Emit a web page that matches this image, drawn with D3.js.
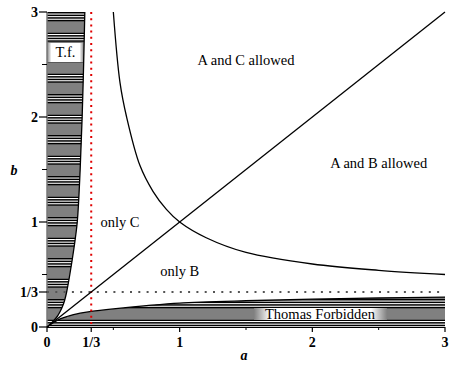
<!DOCTYPE html>
<html><head><meta charset="utf-8">
<script src="https://cdn.jsdelivr.net/npm/d3@7"></script>
<style>body{margin:0;background:#fff}svg{display:block}</style>
</head><body><div id="chart"></div>
<script>
// boundary curve of the "Thomas forbidden" regions (t along axis, s across)
const boundaryT = [0,0.05,0.1,0.15,0.2,0.25,1/3,0.5,0.75,1,1.5,2,2.5,3];
const boundaryS = [0,0.043,0.077,0.1,0.118,0.132,0.148,0.172,0.203,0.228,0.25,0.265,0.276,0.285];
// curve separating the allowed regions
const hypA = [0.5,0.55,0.6,0.7,0.8,0.9,1,1.2,1.5,2,2.5,3];
const hypB = [3,2.33,2,1.54,1.29,1.12,1,0.85,0.71,0.6,0.54,0.5];
// diagonal b = a
const diagA = [0,3];
const diagB = [0,3];
const tickVals = [0,1/3,1,2,3];
const tickLabels = ["0","1/3","1","2","3"];
const minorTicks = [0.5,1.5,2.5];
const regionLabels = [
  {text:"A and C allowed", a:1.5, b:2.5},
  {text:"A and B allowed", a:2.5, b:1.51},
  {text:"only C", a:0.55, b:0.95},
  {text:"only B", a:1.0, b:0.49}
];

const FONT="Liberation Serif";
const W=457,H=368;
const x=d3.scaleLinear().domain([0,3]).range([47,445]);
const y=d3.scaleLinear().domain([0,3]).range([327,12]);
const svg=d3.select("#chart").append("svg").attr("width",W).attr("height",H);
const defs=svg.append("defs");
const grad=defs.append("linearGradient").attr("id","lbl").attr("x1","0").attr("x2","1").attr("y1","0").attr("y2","0");
[[0,"#808080"],[0.12,"#fff"],[0.88,"#fff"],[1,"#808080"]].forEach(s=>grad.append("stop").attr("offset",s[0]).attr("stop-color",s[1]));

const bnd=boundaryT.map((t,i)=>({t,s:boundaryS[i]}));
const lineC=d3.line().curve(d3.curveCatmullRom);
const leftPath=lineC(bnd.map(d=>[x(d.s),y(d.t)]))+"L"+x(0)+","+y(3)+"Z";
const botPath=lineC(bnd.map(d=>[x(d.t),y(d.s)]))+"L"+x(3)+","+y(0)+"Z";
const cp=defs.append("clipPath").attr("id","forb");
cp.append("path").attr("d",leftPath);
cp.append("path").attr("d",botPath);

const fg=svg.append("g").attr("clip-path","url(#forb)");
fg.append("rect").attr("x",x(0)).attr("y",y(3)).attr("width",x(3)-x(0)).attr("height",y(0)-y(3)).attr("fill","#808080");
const P=20.5;
for(let k=0;k<16;k++){
  const y0=12+k*P;
  fg.append("rect").attr("x",x(0)).attr("y",y0).attr("width",x(3)-x(0)).attr("height",9).attr("fill","#fff");
  for(let j=0;j<4;j++) fg.append("rect").attr("x",x(0)).attr("y",y0+j*2.6).attr("width",x(3)-x(0)).attr("height",1.5).attr("fill","#000");
}
// label boxes
svg.append("rect").attr("x",47).attr("y",43).attr("width",37).attr("height",19).attr("fill","url(#lbl)");
svg.append("text").attr("x",65.5).attr("y",57).attr("text-anchor","middle").attr("font-family",FONT).attr("font-size",14.5).text("T.f.");
svg.append("rect").attr("x",254).attr("y",308).attr("width",133).attr("height",12).attr("fill","url(#lbl)");
svg.append("text").attr("x",320).attr("y",318.5).attr("text-anchor","middle").attr("font-family",FONT).attr("font-size",14.5).text("Thomas Forbidden");

// boundary lines
svg.append("path").attr("d",lineC(bnd.map(d=>[x(d.s),y(d.t)]))).attr("fill","none").attr("stroke","#000").attr("stroke-width",1.3);
svg.append("path").attr("d",lineC(bnd.map(d=>[x(d.t),y(d.s)]))).attr("fill","none").attr("stroke","#000").attr("stroke-width",1.3);

// axes lines
svg.append("line").attr("x1",x(0)).attr("x2",x(0)).attr("y1",y(0)).attr("y2",y(3)).attr("stroke","#777").attr("stroke-width",1.5);
svg.append("line").attr("x1",x(0)).attr("x2",x(3)).attr("y1",y(0)+0.5).attr("y2",y(0)+0.5).attr("stroke","#000");

// reference lines
svg.append("line").attr("x1",x(1/3)).attr("x2",x(1/3)).attr("y1",y(3)).attr("y2",y(0)).attr("stroke","#e00000").attr("stroke-width",2).attr("stroke-dasharray","2 4.2");
svg.append("line").attr("x1",x(0)).attr("x2",x(3)).attr("y1",y(1/3)).attr("y2",y(1/3)).attr("stroke","#555").attr("stroke-width",1.8).attr("stroke-dasharray","2 6.3");

svg.append("path").attr("d",d3.line()(diagA.map((a,i)=>[x(a),y(diagB[i])]))).attr("stroke","#000").attr("stroke-width",1.3).attr("fill","none");
svg.append("path").attr("d",lineC(hypA.map((a,i)=>[x(a),y(hypB[i])]))).attr("stroke","#000").attr("stroke-width",1.3).attr("fill","none");

// ticks
const xa=svg.append("g");
tickVals.forEach((v,i)=>{
  xa.append("line").attr("x1",x(v)).attr("x2",x(v)).attr("y1",y(0)).attr("y2",y(0)+5).attr("stroke","#000").attr("stroke-width",1.2);
  xa.append("text").attr("x",x(v)).attr("y",347).attr("text-anchor","middle").attr("font-family",FONT).attr("font-size",14).attr("font-weight","bold").text(tickLabels[i]);
  xa.append("line").attr("y1",y(v)).attr("y2",y(v)).attr("x1",x(0)-8).attr("x2",x(0)).attr("stroke","#000").attr("stroke-width",1.2);
  xa.append("text").attr("x",38).attr("y",y(v)+5).attr("text-anchor","end").attr("font-family",FONT).attr("font-size",14).attr("font-weight","bold").text(tickLabels[i]);
});
minorTicks.forEach(v=>{
  xa.append("line").attr("x1",x(v)).attr("x2",x(v)).attr("y1",y(0)).attr("y2",y(0)+3).attr("stroke","#000");
  xa.append("line").attr("y1",y(v)).attr("y2",y(v)).attr("x1",x(0)-5).attr("x2",x(0)).attr("stroke","#000");
});
svg.append("text").attr("x",244).attr("y",360).attr("text-anchor","middle").attr("font-family",FONT).attr("font-size",14).attr("font-style","italic").attr("font-weight","bold").text("a");
svg.append("text").attr("x",14).attr("y",175).attr("text-anchor","middle").attr("font-family",FONT).attr("font-size",14).attr("font-style","italic").attr("font-weight","bold").text("b");

regionLabels.forEach(d=>svg.append("text").attr("x",x(d.a)).attr("y",y(d.b)).attr("text-anchor","middle").attr("font-family",FONT).attr("font-size",14.5).text(d.text));
</script></body></html>
